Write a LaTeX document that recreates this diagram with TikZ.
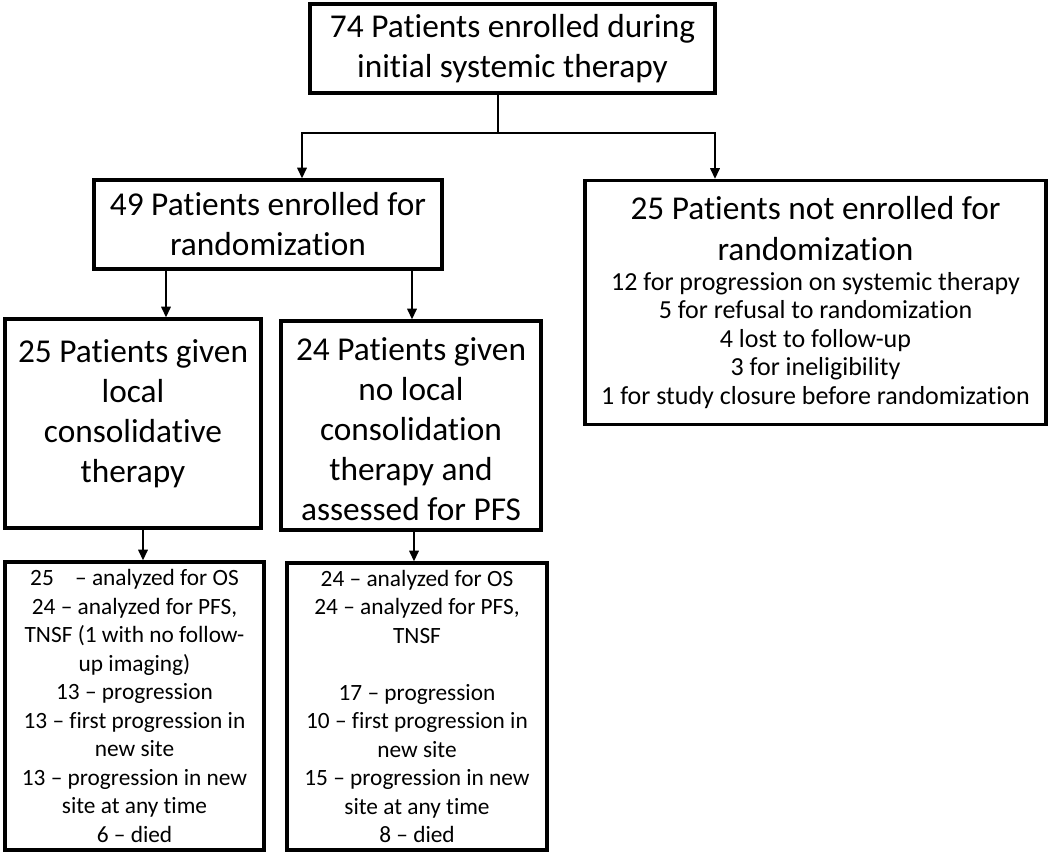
\documentclass[tikz,border=0pt]{standalone}
\usepackage{fontspec}
\setmainfont{Carlito}[Ligatures=NoCommon]
\usetikzlibrary{arrows.meta}
\usetikzlibrary{positioning}

\begin{document}
\begin{tikzpicture}[
        x=0.75pt, y=-0.75pt,
        bigbox/.style={rectangle, draw=black, line width=2.4pt, align=center, inner sep=0pt, font=\fontsize{25}{30}\selectfont},
        listbox/.style={rectangle, draw=black, line width=2.4pt, align=center, inner sep=0pt, font=\fontsize{17.5}{21.4}\selectfont},
        arrow/.style={-{Triangle[length=8pt, width=7pt]}, line width=1.6pt},
        link/.style={line width=1.6pt}
      ]
        \useasboundingbox (0,0) rectangle (1050,854);

        \node[bigbox, minimum width=303.75pt, minimum height=66.75pt]  (enrolled)  at (512.5,48.5)  {74 Patients enrolled during\\initial systemic therapy};
        \node[bigbox, minimum width=261pt, minimum height=66.75pt]     (rand)      at (268,224.5)   {49 Patients enrolled for\\randomization};
        \node[listbox, minimum width=345.75pt, minimum height=183pt,
              font=\fontsize{19.5}{21.4}\selectfont]                  (notrand)   at (815.5,302.5) {{\fontsize{25}{30}\selectfont 25 Patients not enrolled for}\\[9pt]
                {\fontsize{25}{30}\selectfont randomization}\\[1pt]
                12 for progression on systemic therapy\\5 for refusal to randomization\\4 lost to follow-up\\3 for ineligibility\\1 for study closure before randomization};
        \node[bigbox, minimum width=192pt, minimum height=156.75pt]    (lct)       at (133,423.5)   {25 Patients given\\local\\consolidative\\therapy\\[-11pt]};
        \node[bigbox, minimum width=195pt, minimum height=156.75pt]    (nolct)     at (411,425.5)   {24 Patients given\\no local\\consolidation\\therapy and\\assessed for PFS\\[-35pt]};
        \node[listbox, minimum width=194.25pt, minimum height=216pt]   (lctres)    at (134.5,706)   {25\hspace{12pt} -- analyzed for OS\\24 -- analyzed for PFS,\\TNSF (1 with no follow-\\up imaging)\\13 -- progression\\13 -- first progression in\\new site\\13 -- progression in new\\site at any time\\6 -- died};
        \node[listbox, minimum width=195pt, minimum height=215.25pt]   (nolctres)  at (417,706.5)   {24 -- analyzed for OS\\24 -- analyzed for PFS,\\TNSF\\[21.4pt]17 -- progression\\10 -- first progression in\\new site\\15 -- progression in new\\site at any time\\8 -- died};

        \coordinate (split) at (498,133);
        \draw[link]   (split |- enrolled.south) -- (split);
        \draw[arrow]  (split) -| (302,0 |- rand.north);
        \draw[arrow]  (split) -| (715,0 |- notrand.north);
        \draw[arrow]  (166,0 |- rand.south) -- (166,0 |- lct.north);
        \draw[arrow]  (412,0 |- rand.south) -- (412,0 |- nolct.north);
        \draw[arrow]  (143,0 |- lct.south) -- (143,0 |- lctres.north);
        \draw[arrow]  (414,0 |- nolct.south) -- (414,0 |- nolctres.north);
      \end{tikzpicture}
\end{document}
